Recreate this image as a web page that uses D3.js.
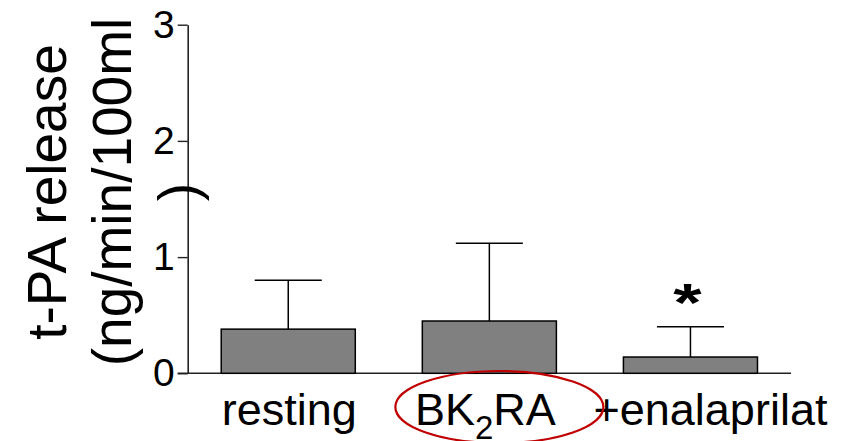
<!DOCTYPE html>
<html>
<head>
<meta charset="utf-8">
<script src="https://cdn.jsdelivr.net/npm/d3@7"></script>
<style>
  html, body { margin: 0; padding: 0; background: #fff; }
  svg { display: block; font-family: "Liberation Sans", Arial, sans-serif; }
</style>
</head>
<body>
<svg id="chart" width="841" height="441"></svg>
<script>
// t-PA release per condition (mean and upper error)
const categories = ["resting", "BK2RA", "+enalaprilat"];
const means = [0.38, 0.45, 0.14];
const errorTops = [0.80, 1.12, 0.40];
const yTicks = [0, 1, 2, 3];
const significant = [false, false, true];

const svg = d3.select("#chart");

const y = d3.scaleLinear().domain([0, 3]).range([373.3, 24.7]);
const x = d3.scaleBand()
  .domain(categories)
  .range([187.7, 791])
  .paddingInner(1 / 3)
  .paddingOuter(1 / 6);

const axisColor = "#222";

// y axis
const yAxis = svg.append("g")
  .attr("transform", `translate(${x.range()[0]},0)`)
  .call(d3.axisLeft(y).tickValues(yTicks).tickFormat(d3.format("d"))
    .tickSize(10).tickSizeOuter(0).tickPadding(3));
yAxis.select(".domain").attr("stroke", axisColor).attr("stroke-width", 1.6);
yAxis.selectAll(".tick line").attr("stroke", axisColor).attr("stroke-width", 1.4);
yAxis.selectAll(".tick text")
  .attr("font-size", 39)
  .attr("font-family", "Liberation Sans, Arial, sans-serif")
  .attr("fill", "#000");

// x baseline
svg.append("line")
  .attr("x1", x.range()[0] - 10).attr("x2", x.range()[1])
  .attr("y1", y(0)).attr("y2", y(0))
  .attr("stroke", axisColor).attr("stroke-width", 1.6);

// error bars (upper only)
const capW = x.bandwidth() / 2;
const err = svg.append("g").attr("stroke", "#000").attr("stroke-width", 1.5);
categories.forEach((c, i) => {
  const cx = x(c) + x.bandwidth() / 2;
  err.append("line")
    .attr("x1", cx).attr("x2", cx)
    .attr("y1", y(means[i])).attr("y2", y(errorTops[i]));
  err.append("line")
    .attr("x1", cx - capW / 2).attr("x2", cx + capW / 2)
    .attr("y1", y(errorTops[i])).attr("y2", y(errorTops[i]));
});

// bars
svg.append("g").selectAll("rect")
  .data(categories)
  .join("rect")
  .attr("x", d => x(d))
  .attr("width", x.bandwidth())
  .attr("y", (d, i) => y(means[i]))
  .attr("height", (d, i) => y(0) - y(means[i]))
  .attr("fill", "#808080")
  .attr("stroke", "#000")
  .attr("stroke-width", 1.5);

// significance marker (wide bold asterisk)
categories.forEach((c, i) => {
  if (!significant[i]) return;
  const ax = x(c) + x.bandwidth() / 2 - 3;
  const ay = y(errorTops[i]) - 6;
  svg.append("text")
    .attr("transform", `translate(${ax},${ay}) scale(1.35,1)`)
    .attr("text-anchor", "middle")
    .attr("font-size", 54)
    .attr("font-weight", "bold")
    .text("*");
});

// category labels
const labelY = 425;
const labelNudge = { "resting": 1, "BK2RA": -4, "+enalaprilat": 20 };
const xl = svg.append("g").attr("font-size", 45).attr("fill", "#000");
categories.forEach(c => {
  const t = xl.append("text")
    .attr("x", x(c) + x.bandwidth() / 2 + labelNudge[c])
    .attr("y", labelY)
    .attr("text-anchor", "middle");
  if (c === "BK2RA") {
    t.append("tspan").text("BK");
    t.append("tspan").attr("font-size", 33).attr("dy", 14).text("2");
    t.append("tspan").attr("dy", -14).text("RA");
  } else {
    t.text(c);
  }
});

// highlight ring around the BK2RA label
svg.append("ellipse")
  .attr("cx", x("BK2RA") + x.bandwidth() / 2 + 10)
  .attr("cy", 407)
  .attr("rx", 104)
  .attr("ry", 36)
  .attr("fill", "none")
  .attr("stroke", "#c00000")
  .attr("stroke-width", 2.2);

// y axis title (three rotated lines)
const titleLines = ["t-PA release", "(ng/min/100ml", ")"];
const titleBaselines = [66, 131, 197];
const titleCenterY = 192;
titleLines.forEach((line, i) => {
  svg.append("text")
    .attr("transform", `translate(${titleBaselines[i]},${titleCenterY}) rotate(-90)`)
    .attr("text-anchor", "middle")
    .attr("font-size", 55)
    .attr("fill", "#000")
    .text(line);
});
</script>
</body>
</html>
